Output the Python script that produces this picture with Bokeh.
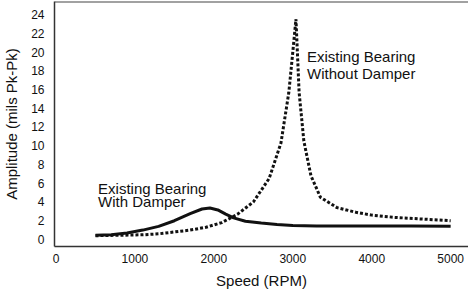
from bokeh.plotting import figure
from bokeh.models import FixedTicker, Range1d, Label, Span
from bokeh.embed import file_html
from bokeh.resources import INLINE

# Data
speed_damper = [500, 700, 900, 1100, 1300, 1500, 1700, 1850, 1950, 2050, 2150, 2250,
                2400, 2600, 2800, 3000, 3300, 4000, 4500, 5000]
amp_damper = [0.45, 0.5, 0.7, 1.0, 1.4, 2.0, 2.75, 3.25, 3.35, 3.15, 2.7, 2.3,
              1.95, 1.75, 1.6, 1.5, 1.45, 1.45, 1.45, 1.4]

speed_nodamper = [500, 800, 1100, 1300, 1500, 1700, 1900, 2100, 2300, 2500, 2700, 2850,
                  2950, 3000, 3040, 3080, 3140, 3230, 3350, 3560, 3800, 4000, 4300, 4600, 5000]
amp_nodamper = [0.4, 0.45, 0.5, 0.6, 0.8, 1.0, 1.3, 1.8, 2.7, 4.0, 6.5, 10.3,
                15.7, 20.0, 23.5, 15.7, 10.5, 6.8, 4.5, 3.4, 2.9, 2.6, 2.35, 2.2, 2.0]

x_ticks = [0, 1000, 2000, 3000, 4000, 5000]
y_ticks = [0, 2, 4, 6, 8, 10, 12, 14, 16, 18, 20, 22, 24]

FONT = "Liberation Sans"
TXT = "#111111"
AX = "#333333"

p = figure(width=468, height=291, output_backend="svg", toolbar_location=None,
           x_range=Range1d(-19, 5226), y_range=Range1d(-0.75, 25.39),
           min_border_left=50, min_border_right=0, min_border_top=1, min_border_bottom=45)
p.outline_line_color = None
p.xgrid.grid_line_color = None
p.ygrid.grid_line_color = None

p.line(speed_nodamper, amp_nodamper, line_color="#111111", line_width=3,
       line_dash="3 2")
p.line(speed_damper, amp_damper, line_color="#111111", line_width=3)

top = Span(location=25.39, dimension="width", line_color="#444444", line_width=2)
p.add_layout(top)

for ax in (p.xaxis[0], p.yaxis[0]):
    ax.axis_line_color = AX
    ax.axis_line_width = 1.5
    ax.major_tick_line_color = None
    ax.minor_tick_line_color = None
    ax.major_tick_out = 0
    ax.major_tick_in = 0
    ax.major_label_text_font = FONT
    ax.major_label_text_font_size = "12px"
    ax.major_label_text_color = TXT
    ax.axis_label_text_font = FONT
    ax.axis_label_text_font_size = "15px"
    ax.axis_label_text_font_style = "normal"
    ax.axis_label_text_color = TXT

p.xaxis.ticker = FixedTicker(ticks=x_ticks)
p.yaxis.ticker = FixedTicker(ticks=y_ticks)
p.xaxis.axis_label = "Speed (RPM)"
p.yaxis.axis_label = "Amplitude (mils Pk-Pk)"
p.xaxis.major_label_standoff = 7
p.yaxis.major_label_standoff = 10
p.xaxis.axis_label_standoff = 6
p.yaxis.axis_label_standoff = 8

def lab(x, y, t):
    p.add_layout(Label(x=x, y=y, text=t, text_font=FONT, text_font_size="15px",
                       text_color=TXT, text_baseline="alphabetic"))

lab(3180, 19.5, "Existing Bearing")
lab(3180, 17.7, "Without Damper")
lab(533, 5.44, "Existing Bearing")
lab(533, 4.05, "With Damper")

open("out.html", "w").write(file_html(p, INLINE))
